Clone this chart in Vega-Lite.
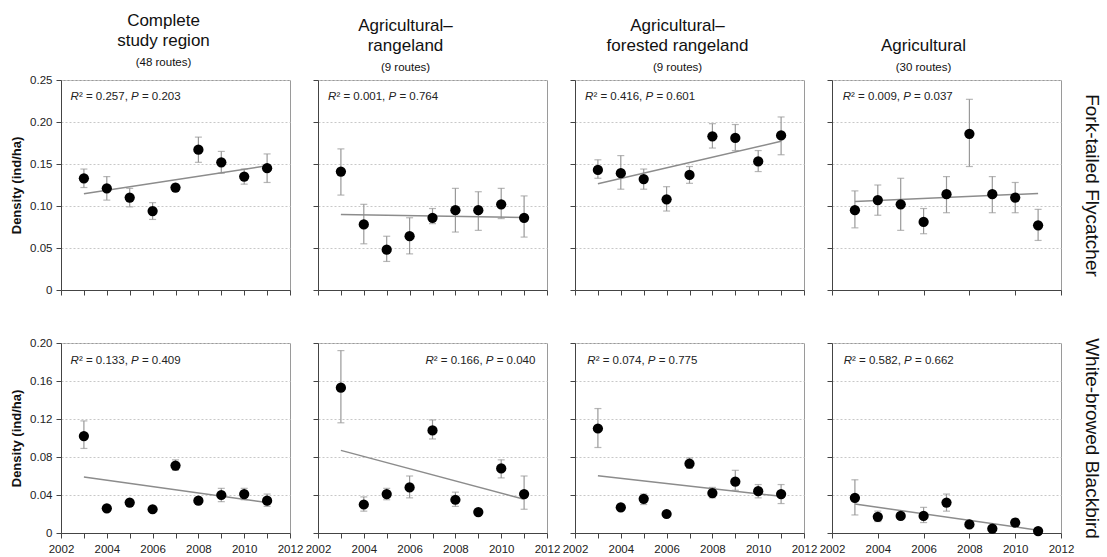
{
"$schema": "https://vega.github.io/schema/vega-lite/v6.json",
"padding": {"left": 10, "top": 11, "right": 2, "bottom": 0},
"background": "white",
"data": {"values": [
{"sp":"F","reg":"C","k":"p","x":2003,"y":0.133,"lo":0.122,"hi":0.144},
{"sp":"F","reg":"C","k":"p","x":2004,"y":0.121,"lo":0.107,"hi":0.135},
{"sp":"F","reg":"C","k":"p","x":2005,"y":0.110,"lo":0.099,"hi":0.121},
{"sp":"F","reg":"C","k":"p","x":2006,"y":0.094,"lo":0.084,"hi":0.104},
{"sp":"F","reg":"C","k":"p","x":2007,"y":0.122,"lo":0.118,"hi":0.126},
{"sp":"F","reg":"C","k":"p","x":2008,"y":0.167,"lo":0.152,"hi":0.182},
{"sp":"F","reg":"C","k":"p","x":2009,"y":0.152,"lo":0.139,"hi":0.165},
{"sp":"F","reg":"C","k":"p","x":2010,"y":0.135,"lo":0.126,"hi":0.144},
{"sp":"F","reg":"C","k":"p","x":2011,"y":0.145,"lo":0.128,"hi":0.162},
{"sp":"F","reg":"C","k":"t","x":2003,"y":0.1145},
{"sp":"F","reg":"C","k":"t","x":2011,"y":0.1478},
{"sp":"F","reg":"C","k":"a","x":2002.42,"y":0.230,"r2t":"² = 0.257,","pt":"= 0.203"},
{"sp":"F","reg":"AR","k":"p","x":2003,"y":0.141,"lo":0.113,"hi":0.168},
{"sp":"F","reg":"AR","k":"p","x":2004,"y":0.078,"lo":0.055,"hi":0.102},
{"sp":"F","reg":"AR","k":"p","x":2005,"y":0.048,"lo":0.034,"hi":0.064},
{"sp":"F","reg":"AR","k":"p","x":2006,"y":0.064,"lo":0.043,"hi":0.086},
{"sp":"F","reg":"AR","k":"p","x":2007,"y":0.086,"lo":0.079,"hi":0.097},
{"sp":"F","reg":"AR","k":"p","x":2008,"y":0.095,"lo":0.069,"hi":0.121},
{"sp":"F","reg":"AR","k":"p","x":2009,"y":0.095,"lo":0.071,"hi":0.117},
{"sp":"F","reg":"AR","k":"p","x":2010,"y":0.102,"lo":0.085,"hi":0.121},
{"sp":"F","reg":"AR","k":"p","x":2011,"y":0.086,"lo":0.063,"hi":0.112},
{"sp":"F","reg":"AR","k":"t","x":2003,"y":0.0899},
{"sp":"F","reg":"AR","k":"t","x":2011,"y":0.0864},
{"sp":"F","reg":"AR","k":"a","x":2002.44,"y":0.230,"r2t":"² = 0.001,","pt":"= 0.764"},
{"sp":"F","reg":"AFR","k":"p","x":2003,"y":0.143,"lo":0.133,"hi":0.155},
{"sp":"F","reg":"AFR","k":"p","x":2004,"y":0.139,"lo":0.120,"hi":0.160},
{"sp":"F","reg":"AFR","k":"p","x":2005,"y":0.132,"lo":0.120,"hi":0.144},
{"sp":"F","reg":"AFR","k":"p","x":2006,"y":0.108,"lo":0.094,"hi":0.123},
{"sp":"F","reg":"AFR","k":"p","x":2007,"y":0.137,"lo":0.127,"hi":0.147},
{"sp":"F","reg":"AFR","k":"p","x":2008,"y":0.183,"lo":0.169,"hi":0.198},
{"sp":"F","reg":"AFR","k":"p","x":2009,"y":0.181,"lo":0.166,"hi":0.197},
{"sp":"F","reg":"AFR","k":"p","x":2010,"y":0.153,"lo":0.141,"hi":0.166},
{"sp":"F","reg":"AFR","k":"p","x":2011,"y":0.184,"lo":0.161,"hi":0.206},
{"sp":"F","reg":"AFR","k":"t","x":2003,"y":0.1265},
{"sp":"F","reg":"AFR","k":"t","x":2011,"y":0.177},
{"sp":"F","reg":"AFR","k":"a","x":2002.44,"y":0.230,"r2t":"² = 0.416,","pt":"= 0.601"},
{"sp":"F","reg":"A","k":"p","x":2003,"y":0.095,"lo":0.074,"hi":0.118},
{"sp":"F","reg":"A","k":"p","x":2004,"y":0.107,"lo":0.089,"hi":0.125},
{"sp":"F","reg":"A","k":"p","x":2005,"y":0.102,"lo":0.071,"hi":0.133},
{"sp":"F","reg":"A","k":"p","x":2006,"y":0.081,"lo":0.067,"hi":0.097},
{"sp":"F","reg":"A","k":"p","x":2007,"y":0.114,"lo":0.092,"hi":0.135},
{"sp":"F","reg":"A","k":"p","x":2008,"y":0.186,"lo":0.147,"hi":0.227},
{"sp":"F","reg":"A","k":"p","x":2009,"y":0.114,"lo":0.092,"hi":0.135},
{"sp":"F","reg":"A","k":"p","x":2010,"y":0.110,"lo":0.092,"hi":0.128},
{"sp":"F","reg":"A","k":"p","x":2011,"y":0.077,"lo":0.059,"hi":0.096},
{"sp":"F","reg":"A","k":"t","x":2003,"y":0.1053},
{"sp":"F","reg":"A","k":"t","x":2011,"y":0.1149},
{"sp":"F","reg":"A","k":"a","x":2002.47,"y":0.230,"r2t":"² = 0.009,","pt":"= 0.037"},
{"sp":"W","reg":"C","k":"p","x":2003,"y":0.102,"lo":0.089,"hi":0.118},
{"sp":"W","reg":"C","k":"p","x":2004,"y":0.026,"lo":0.024,"hi":0.028},
{"sp":"W","reg":"C","k":"p","x":2005,"y":0.032,"lo":0.030,"hi":0.034},
{"sp":"W","reg":"C","k":"p","x":2006,"y":0.025,"lo":0.023,"hi":0.027},
{"sp":"W","reg":"C","k":"p","x":2007,"y":0.071,"lo":0.066,"hi":0.077},
{"sp":"W","reg":"C","k":"p","x":2008,"y":0.034,"lo":0.031,"hi":0.037},
{"sp":"W","reg":"C","k":"p","x":2009,"y":0.040,"lo":0.033,"hi":0.047},
{"sp":"W","reg":"C","k":"p","x":2010,"y":0.041,"lo":0.035,"hi":0.047},
{"sp":"W","reg":"C","k":"p","x":2011,"y":0.034,"lo":0.028,"hi":0.041},
{"sp":"W","reg":"C","k":"t","x":2003,"y":0.059},
{"sp":"W","reg":"C","k":"t","x":2011,"y":0.032},
{"sp":"W","reg":"C","k":"a","x":2002.42,"y":0.181,"r2t":"² = 0.133,","pt":"= 0.409"},
{"sp":"W","reg":"AR","k":"p","x":2003,"y":0.153,"lo":0.116,"hi":0.192},
{"sp":"W","reg":"AR","k":"p","x":2004,"y":0.030,"lo":0.023,"hi":0.038},
{"sp":"W","reg":"AR","k":"p","x":2005,"y":0.041,"lo":0.035,"hi":0.047},
{"sp":"W","reg":"AR","k":"p","x":2006,"y":0.048,"lo":0.037,"hi":0.060},
{"sp":"W","reg":"AR","k":"p","x":2007,"y":0.108,"lo":0.099,"hi":0.119},
{"sp":"W","reg":"AR","k":"p","x":2008,"y":0.035,"lo":0.028,"hi":0.043},
{"sp":"W","reg":"AR","k":"p","x":2009,"y":0.022,"lo":0.020,"hi":0.024},
{"sp":"W","reg":"AR","k":"p","x":2010,"y":0.068,"lo":0.058,"hi":0.077},
{"sp":"W","reg":"AR","k":"p","x":2011,"y":0.041,"lo":0.025,"hi":0.060},
{"sp":"W","reg":"AR","k":"t","x":2003,"y":0.087},
{"sp":"W","reg":"AR","k":"t","x":2011,"y":0.0355},
{"sp":"W","reg":"AR","k":"a","x":2006.69,"y":0.181,"r2t":"² = 0.166,","pt":"= 0.040"},
{"sp":"W","reg":"AFR","k":"p","x":2003,"y":0.110,"lo":0.090,"hi":0.131},
{"sp":"W","reg":"AFR","k":"p","x":2004,"y":0.027,"lo":0.025,"hi":0.029},
{"sp":"W","reg":"AFR","k":"p","x":2005,"y":0.036,"lo":0.030,"hi":0.041},
{"sp":"W","reg":"AFR","k":"p","x":2006,"y":0.020,"lo":0.018,"hi":0.022},
{"sp":"W","reg":"AFR","k":"p","x":2007,"y":0.073,"lo":0.068,"hi":0.079},
{"sp":"W","reg":"AFR","k":"p","x":2008,"y":0.042,"lo":0.037,"hi":0.048},
{"sp":"W","reg":"AFR","k":"p","x":2009,"y":0.054,"lo":0.045,"hi":0.066},
{"sp":"W","reg":"AFR","k":"p","x":2010,"y":0.044,"lo":0.037,"hi":0.051},
{"sp":"W","reg":"AFR","k":"p","x":2011,"y":0.041,"lo":0.031,"hi":0.051},
{"sp":"W","reg":"AFR","k":"t","x":2003,"y":0.0603},
{"sp":"W","reg":"AFR","k":"t","x":2011,"y":0.0386},
{"sp":"W","reg":"AFR","k":"a","x":2002.54,"y":0.181,"r2t":"² = 0.074,","pt":"= 0.775"},
{"sp":"W","reg":"A","k":"p","x":2003,"y":0.037,"lo":0.019,"hi":0.056},
{"sp":"W","reg":"A","k":"p","x":2004,"y":0.017,"lo":0.012,"hi":0.023},
{"sp":"W","reg":"A","k":"p","x":2005,"y":0.018,"lo":0.016,"hi":0.020},
{"sp":"W","reg":"A","k":"p","x":2006,"y":0.018,"lo":0.011,"hi":0.027},
{"sp":"W","reg":"A","k":"p","x":2007,"y":0.032,"lo":0.023,"hi":0.041},
{"sp":"W","reg":"A","k":"p","x":2008,"y":0.009,"lo":0.007,"hi":0.011},
{"sp":"W","reg":"A","k":"p","x":2009,"y":0.0045,"lo":0.003,"hi":0.006},
{"sp":"W","reg":"A","k":"p","x":2010,"y":0.011,"lo":0.007,"hi":0.015},
{"sp":"W","reg":"A","k":"p","x":2011,"y":0.002,"lo":0.001,"hi":0.003},
{"sp":"W","reg":"A","k":"t","x":2003,"y":0.0305},
{"sp":"W","reg":"A","k":"t","x":2011,"y":0.003},
{"sp":"W","reg":"A","k":"a","x":2002.51,"y":0.181,"r2t":"² = 0.582,","pt":"= 0.662"}
]},
"config": {
  "font": "Liberation Sans",
  "view": {"stroke": "#9a9a9a", "strokeWidth": 1},
  "axis": {"labelFont": "Liberation Sans", "labelFontSize": 11.5, "labelColor": "#222222", "domainColor": "#444444", "tickColor": "#444444", "tickSize": 5, "labelFlush": false, "labelOverlap": false, "titleFont": "Liberation Sans", "titleColor": "#111111"},
  "axisX": {"grid": false, "labelPadding": 5},
  "axisY": {"grid": true, "gridColor": "#c8c8c8", "gridDash": [2, 2], "labelPadding": 4},
  "title": {"font": "Liberation Sans", "fontSize": 17, "fontWeight": "normal", "color": "#111111", "subtitleFont": "Liberation Sans", "subtitleFontSize": 11.5, "subtitleColor": "#111111", "anchor": "middle", "frame": "group", "lineHeight": 20, "subtitlePadding": 7, "offset": 5}
},
"spacing": 40,
"vconcat": [
{"spacing": 28, "bounds": "flush", "hconcat": [
 {"width": 229, "height": 210,
  "title": {"text": ["Complete", "study region"], "subtitle": "(48 routes)", "dx": -12},
  "transform": [{"filter": "datum.sp === 'F' && datum.reg === 'C'"}],
  "encoding": {
   "x": {"field": "x", "type": "quantitative", "scale": {"domain": [2002, 2012], "nice": false, "zero": false}, "axis": {"values": [2002,2003,2004,2005,2006,2007,2008,2009,2010,2011,2012], "labels": false, "title": null}},
   "y": {"field": "y", "type": "quantitative", "scale": {"domain": [0, 0.25], "nice": false}, "axis": {"values": [0,0.05,0.1,0.15,0.2,0.25], "labelExpr": "datum.value === 0 ? '0' : format(datum.value, '.2f')", "title": "Density (ind/ha)", "titleFontSize": 13, "titleFontWeight": "bold", "titlePadding": 6}}
  },
  "layer": [
   {"transform": [{"filter": "datum.k === 'p'"}], "mark": {"type": "rule", "color": "#999999", "strokeWidth": 1.2}, "encoding": {"y": {"field": "lo", "type": "quantitative", "scale": {"domain": [0, 0.25], "nice": false}}, "y2": {"field": "hi"}}},
   {"transform": [{"filter": "datum.k === 'p'"}], "mark": {"type": "tick", "orient": "horizontal", "color": "#999999", "size": 7, "thickness": 1.2}, "encoding": {"y": {"field": "lo", "type": "quantitative", "scale": {"domain": [0, 0.25], "nice": false}}}},
   {"transform": [{"filter": "datum.k === 'p'"}], "mark": {"type": "tick", "orient": "horizontal", "color": "#999999", "size": 7, "thickness": 1.2}, "encoding": {"y": {"field": "hi", "type": "quantitative", "scale": {"domain": [0, 0.25], "nice": false}}}},
   {"transform": [{"filter": "datum.k === 't'"}], "mark": {"type": "line", "color": "#8c8c8c", "strokeWidth": 1.5}, "encoding": {}},
   {"transform": [{"filter": "datum.k === 'p'"}], "mark": {"type": "circle", "color": "#000000", "size": 105, "opacity": 1}, "encoding": {}},
   {"transform": [{"filter": "datum.k === 'a'"}], "mark": {"type": "text", "text": "R", "fontStyle": "italic", "align": "left", "baseline": "middle", "fontSize": 11.5, "color": "#222222"}, "encoding": {}},
   {"transform": [{"filter": "datum.k === 'a'"}], "mark": {"type": "text", "align": "left", "baseline": "middle", "fontSize": 11.5, "dx": 8.3, "color": "#222222"}, "encoding": {"text": {"field": "r2t"}}},
   {"transform": [{"filter": "datum.k === 'a'"}], "mark": {"type": "text", "text": "P", "fontStyle": "italic", "align": "left", "baseline": "middle", "fontSize": 11.5, "dx": 60.4, "color": "#222222"}, "encoding": {}},
   {"transform": [{"filter": "datum.k === 'a'"}], "mark": {"type": "text", "align": "left", "baseline": "middle", "fontSize": 11.5, "dx": 71.3, "color": "#222222"}, "encoding": {"text": {"field": "pt"}}}
  ]},
 {"width": 229, "height": 210,
  "title": {"text": ["Agricultural–", "rangeland"], "subtitle": "(9 routes)", "dx": -27},
  "transform": [{"filter": "datum.sp === 'F' && datum.reg === 'AR'"}],
  "encoding": {
   "x": {"field": "x", "type": "quantitative", "scale": {"domain": [2002, 2012], "nice": false, "zero": false}, "axis": {"values": [2002,2003,2004,2005,2006,2007,2008,2009,2010,2011,2012], "labels": false, "title": null}},
   "y": {"field": "y", "type": "quantitative", "scale": {"domain": [0, 0.25], "nice": false}, "axis": {"values": [0,0.05,0.1,0.15,0.2,0.25], "labels": false, "title": null}}
  },
  "layer": [
   {"transform": [{"filter": "datum.k === 'p'"}], "mark": {"type": "rule", "color": "#999999", "strokeWidth": 1.2}, "encoding": {"y": {"field": "lo", "type": "quantitative", "scale": {"domain": [0, 0.25], "nice": false}}, "y2": {"field": "hi"}}},
   {"transform": [{"filter": "datum.k === 'p'"}], "mark": {"type": "tick", "orient": "horizontal", "color": "#999999", "size": 7, "thickness": 1.2}, "encoding": {"y": {"field": "lo", "type": "quantitative", "scale": {"domain": [0, 0.25], "nice": false}}}},
   {"transform": [{"filter": "datum.k === 'p'"}], "mark": {"type": "tick", "orient": "horizontal", "color": "#999999", "size": 7, "thickness": 1.2}, "encoding": {"y": {"field": "hi", "type": "quantitative", "scale": {"domain": [0, 0.25], "nice": false}}}},
   {"transform": [{"filter": "datum.k === 't'"}], "mark": {"type": "line", "color": "#8c8c8c", "strokeWidth": 1.5}, "encoding": {}},
   {"transform": [{"filter": "datum.k === 'p'"}], "mark": {"type": "circle", "color": "#000000", "size": 105, "opacity": 1}, "encoding": {}},
   {"transform": [{"filter": "datum.k === 'a'"}], "mark": {"type": "text", "text": "R", "fontStyle": "italic", "align": "left", "baseline": "middle", "fontSize": 11.5, "color": "#222222"}, "encoding": {}},
   {"transform": [{"filter": "datum.k === 'a'"}], "mark": {"type": "text", "align": "left", "baseline": "middle", "fontSize": 11.5, "dx": 8.3, "color": "#222222"}, "encoding": {"text": {"field": "r2t"}}},
   {"transform": [{"filter": "datum.k === 'a'"}], "mark": {"type": "text", "text": "P", "fontStyle": "italic", "align": "left", "baseline": "middle", "fontSize": 11.5, "dx": 60.4, "color": "#222222"}, "encoding": {}},
   {"transform": [{"filter": "datum.k === 'a'"}], "mark": {"type": "text", "align": "left", "baseline": "middle", "fontSize": 11.5, "dx": 71.3, "color": "#222222"}, "encoding": {"text": {"field": "pt"}}}
  ]},
 {"width": 229, "height": 210,
  "title": {"text": ["Agricultural–", "forested rangeland"], "subtitle": "(9 routes)", "dx": -12},
  "transform": [{"filter": "datum.sp === 'F' && datum.reg === 'AFR'"}],
  "encoding": {
   "x": {"field": "x", "type": "quantitative", "scale": {"domain": [2002, 2012], "nice": false, "zero": false}, "axis": {"values": [2002,2003,2004,2005,2006,2007,2008,2009,2010,2011,2012], "labels": false, "title": null}},
   "y": {"field": "y", "type": "quantitative", "scale": {"domain": [0, 0.25], "nice": false}, "axis": {"values": [0,0.05,0.1,0.15,0.2,0.25], "labels": false, "title": null}}
  },
  "layer": [
   {"transform": [{"filter": "datum.k === 'p'"}], "mark": {"type": "rule", "color": "#999999", "strokeWidth": 1.2}, "encoding": {"y": {"field": "lo", "type": "quantitative", "scale": {"domain": [0, 0.25], "nice": false}}, "y2": {"field": "hi"}}},
   {"transform": [{"filter": "datum.k === 'p'"}], "mark": {"type": "tick", "orient": "horizontal", "color": "#999999", "size": 7, "thickness": 1.2}, "encoding": {"y": {"field": "lo", "type": "quantitative", "scale": {"domain": [0, 0.25], "nice": false}}}},
   {"transform": [{"filter": "datum.k === 'p'"}], "mark": {"type": "tick", "orient": "horizontal", "color": "#999999", "size": 7, "thickness": 1.2}, "encoding": {"y": {"field": "hi", "type": "quantitative", "scale": {"domain": [0, 0.25], "nice": false}}}},
   {"transform": [{"filter": "datum.k === 't'"}], "mark": {"type": "line", "color": "#8c8c8c", "strokeWidth": 1.5}, "encoding": {}},
   {"transform": [{"filter": "datum.k === 'p'"}], "mark": {"type": "circle", "color": "#000000", "size": 105, "opacity": 1}, "encoding": {}},
   {"transform": [{"filter": "datum.k === 'a'"}], "mark": {"type": "text", "text": "R", "fontStyle": "italic", "align": "left", "baseline": "middle", "fontSize": 11.5, "color": "#222222"}, "encoding": {}},
   {"transform": [{"filter": "datum.k === 'a'"}], "mark": {"type": "text", "align": "left", "baseline": "middle", "fontSize": 11.5, "dx": 8.3, "color": "#222222"}, "encoding": {"text": {"field": "r2t"}}},
   {"transform": [{"filter": "datum.k === 'a'"}], "mark": {"type": "text", "text": "P", "fontStyle": "italic", "align": "left", "baseline": "middle", "fontSize": 11.5, "dx": 60.4, "color": "#222222"}, "encoding": {}},
   {"transform": [{"filter": "datum.k === 'a'"}], "mark": {"type": "text", "align": "left", "baseline": "middle", "fontSize": 11.5, "dx": 71.3, "color": "#222222"}, "encoding": {"text": {"field": "pt"}}}
  ]},
 {"width": 229, "height": 210,
  "title": {"text": "Agricultural", "subtitle": "(30 routes)", "dx": -23},
  "transform": [{"filter": "datum.sp === 'F' && datum.reg === 'A'"}],
  "resolve": {"axis": {"y": "independent"}},
  "layer": [
   {"encoding": {
     "x": {"field": "x", "type": "quantitative", "scale": {"domain": [2002, 2012], "nice": false, "zero": false}, "axis": {"values": [2002,2003,2004,2005,2006,2007,2008,2009,2010,2011,2012], "labels": false, "title": null}},
     "y": {"field": "y", "type": "quantitative", "scale": {"domain": [0, 0.25], "nice": false}, "axis": {"values": [0,0.05,0.1,0.15,0.2,0.25], "labels": false, "title": null}}
    },
    "layer": [
     {"transform": [{"filter": "datum.k === 'p'"}], "mark": {"type": "rule", "color": "#999999", "strokeWidth": 1.2}, "encoding": {"y": {"field": "lo", "type": "quantitative", "scale": {"domain": [0, 0.25], "nice": false}}, "y2": {"field": "hi"}}},
     {"transform": [{"filter": "datum.k === 'p'"}], "mark": {"type": "tick", "orient": "horizontal", "color": "#999999", "size": 7, "thickness": 1.2}, "encoding": {"y": {"field": "lo", "type": "quantitative", "scale": {"domain": [0, 0.25], "nice": false}}}},
     {"transform": [{"filter": "datum.k === 'p'"}], "mark": {"type": "tick", "orient": "horizontal", "color": "#999999", "size": 7, "thickness": 1.2}, "encoding": {"y": {"field": "hi", "type": "quantitative", "scale": {"domain": [0, 0.25], "nice": false}}}},
     {"transform": [{"filter": "datum.k === 't'"}], "mark": {"type": "line", "color": "#8c8c8c", "strokeWidth": 1.5}, "encoding": {}},
     {"transform": [{"filter": "datum.k === 'p'"}], "mark": {"type": "circle", "color": "#000000", "size": 105, "opacity": 1}, "encoding": {}},
     {"transform": [{"filter": "datum.k === 'a'"}], "mark": {"type": "text", "text": "R", "fontStyle": "italic", "align": "left", "baseline": "middle", "fontSize": 11.5, "color": "#222222"}, "encoding": {}},
     {"transform": [{"filter": "datum.k === 'a'"}], "mark": {"type": "text", "align": "left", "baseline": "middle", "fontSize": 11.5, "dx": 8.3, "color": "#222222"}, "encoding": {"text": {"field": "r2t"}}},
     {"transform": [{"filter": "datum.k === 'a'"}], "mark": {"type": "text", "text": "P", "fontStyle": "italic", "align": "left", "baseline": "middle", "fontSize": 11.5, "dx": 60.4, "color": "#222222"}, "encoding": {}},
     {"transform": [{"filter": "datum.k === 'a'"}], "mark": {"type": "text", "align": "left", "baseline": "middle", "fontSize": 11.5, "dx": 71.3, "color": "#222222"}, "encoding": {"text": {"field": "pt"}}}
    ]},
   {"transform": [{"filter": "datum.k === 'a'"}], "mark": {"type": "point", "opacity": 0},
    "encoding": {"x": {"field": "x", "type": "quantitative", "scale": {"domain": [2002, 2012], "nice": false, "zero": false}},
     "y": {"field": "y", "type": "quantitative", "scale": {"domain": [0, 0.25], "nice": false}, "axis": {"orient": "right", "title": "Fork-tailed Flycatcher", "labels": false, "ticks": false, "domain": false, "grid": false, "titleFontSize": 19, "titleFontWeight": "normal", "titlePadding": 20, "titleColor": "#111111"}}}}
  ]}
]},
{"spacing": 28, "bounds": "flush", "hconcat": [
 {"width": 229, "height": 190,
  "transform": [{"filter": "datum.sp === 'W' && datum.reg === 'C'"}],
  "encoding": {
   "x": {"field": "x", "type": "quantitative", "scale": {"domain": [2002, 2012], "nice": false, "zero": false}, "axis": {"values": [2002,2003,2004,2005,2006,2007,2008,2009,2010,2011,2012], "labelExpr": "datum.value % 2 === 0 ? format(datum.value, 'd') : ''", "title": null}},
   "y": {"field": "y", "type": "quantitative", "scale": {"domain": [0, 0.2], "nice": false}, "axis": {"values": [0,0.04,0.08,0.12,0.16,0.2], "labelExpr": "datum.value === 0 ? '0' : format(datum.value, '.2f')", "title": "Density (ind/ha)", "titleFontSize": 13, "titleFontWeight": "bold", "titlePadding": 6}}
  },
  "layer": [
   {"transform": [{"filter": "datum.k === 'p'"}], "mark": {"type": "rule", "color": "#999999", "strokeWidth": 1.2}, "encoding": {"y": {"field": "lo", "type": "quantitative", "scale": {"domain": [0, 0.2], "nice": false}}, "y2": {"field": "hi"}}},
   {"transform": [{"filter": "datum.k === 'p'"}], "mark": {"type": "tick", "orient": "horizontal", "color": "#999999", "size": 7, "thickness": 1.2}, "encoding": {"y": {"field": "lo", "type": "quantitative", "scale": {"domain": [0, 0.2], "nice": false}}}},
   {"transform": [{"filter": "datum.k === 'p'"}], "mark": {"type": "tick", "orient": "horizontal", "color": "#999999", "size": 7, "thickness": 1.2}, "encoding": {"y": {"field": "hi", "type": "quantitative", "scale": {"domain": [0, 0.2], "nice": false}}}},
   {"transform": [{"filter": "datum.k === 't'"}], "mark": {"type": "line", "color": "#8c8c8c", "strokeWidth": 1.5}, "encoding": {}},
   {"transform": [{"filter": "datum.k === 'p'"}], "mark": {"type": "circle", "color": "#000000", "size": 105, "opacity": 1}, "encoding": {}},
   {"transform": [{"filter": "datum.k === 'a'"}], "mark": {"type": "text", "text": "R", "fontStyle": "italic", "align": "left", "baseline": "middle", "fontSize": 11.5, "color": "#222222"}, "encoding": {}},
   {"transform": [{"filter": "datum.k === 'a'"}], "mark": {"type": "text", "align": "left", "baseline": "middle", "fontSize": 11.5, "dx": 8.3, "color": "#222222"}, "encoding": {"text": {"field": "r2t"}}},
   {"transform": [{"filter": "datum.k === 'a'"}], "mark": {"type": "text", "text": "P", "fontStyle": "italic", "align": "left", "baseline": "middle", "fontSize": 11.5, "dx": 60.4, "color": "#222222"}, "encoding": {}},
   {"transform": [{"filter": "datum.k === 'a'"}], "mark": {"type": "text", "align": "left", "baseline": "middle", "fontSize": 11.5, "dx": 71.3, "color": "#222222"}, "encoding": {"text": {"field": "pt"}}}
  ]},
 {"width": 229, "height": 190,
  "transform": [{"filter": "datum.sp === 'W' && datum.reg === 'AR'"}],
  "encoding": {
   "x": {"field": "x", "type": "quantitative", "scale": {"domain": [2002, 2012], "nice": false, "zero": false}, "axis": {"values": [2002,2003,2004,2005,2006,2007,2008,2009,2010,2011,2012], "labelExpr": "datum.value % 2 === 0 ? format(datum.value, 'd') : ''", "title": null}},
   "y": {"field": "y", "type": "quantitative", "scale": {"domain": [0, 0.2], "nice": false}, "axis": {"values": [0,0.04,0.08,0.12,0.16,0.2], "labels": false, "title": null}}
  },
  "layer": [
   {"transform": [{"filter": "datum.k === 'p'"}], "mark": {"type": "rule", "color": "#999999", "strokeWidth": 1.2}, "encoding": {"y": {"field": "lo", "type": "quantitative", "scale": {"domain": [0, 0.2], "nice": false}}, "y2": {"field": "hi"}}},
   {"transform": [{"filter": "datum.k === 'p'"}], "mark": {"type": "tick", "orient": "horizontal", "color": "#999999", "size": 7, "thickness": 1.2}, "encoding": {"y": {"field": "lo", "type": "quantitative", "scale": {"domain": [0, 0.2], "nice": false}}}},
   {"transform": [{"filter": "datum.k === 'p'"}], "mark": {"type": "tick", "orient": "horizontal", "color": "#999999", "size": 7, "thickness": 1.2}, "encoding": {"y": {"field": "hi", "type": "quantitative", "scale": {"domain": [0, 0.2], "nice": false}}}},
   {"transform": [{"filter": "datum.k === 't'"}], "mark": {"type": "line", "color": "#8c8c8c", "strokeWidth": 1.5}, "encoding": {}},
   {"transform": [{"filter": "datum.k === 'p'"}], "mark": {"type": "circle", "color": "#000000", "size": 105, "opacity": 1}, "encoding": {}},
   {"transform": [{"filter": "datum.k === 'a'"}], "mark": {"type": "text", "text": "R", "fontStyle": "italic", "align": "left", "baseline": "middle", "fontSize": 11.5, "color": "#222222"}, "encoding": {}},
   {"transform": [{"filter": "datum.k === 'a'"}], "mark": {"type": "text", "align": "left", "baseline": "middle", "fontSize": 11.5, "dx": 8.3, "color": "#222222"}, "encoding": {"text": {"field": "r2t"}}},
   {"transform": [{"filter": "datum.k === 'a'"}], "mark": {"type": "text", "text": "P", "fontStyle": "italic", "align": "left", "baseline": "middle", "fontSize": 11.5, "dx": 60.4, "color": "#222222"}, "encoding": {}},
   {"transform": [{"filter": "datum.k === 'a'"}], "mark": {"type": "text", "align": "left", "baseline": "middle", "fontSize": 11.5, "dx": 71.3, "color": "#222222"}, "encoding": {"text": {"field": "pt"}}}
  ]},
 {"width": 229, "height": 190,
  "transform": [{"filter": "datum.sp === 'W' && datum.reg === 'AFR'"}],
  "encoding": {
   "x": {"field": "x", "type": "quantitative", "scale": {"domain": [2002, 2012], "nice": false, "zero": false}, "axis": {"values": [2002,2003,2004,2005,2006,2007,2008,2009,2010,2011,2012], "labelExpr": "datum.value % 2 === 0 ? format(datum.value, 'd') : ''", "title": null}},
   "y": {"field": "y", "type": "quantitative", "scale": {"domain": [0, 0.2], "nice": false}, "axis": {"values": [0,0.04,0.08,0.12,0.16,0.2], "labels": false, "title": null}}
  },
  "layer": [
   {"transform": [{"filter": "datum.k === 'p'"}], "mark": {"type": "rule", "color": "#999999", "strokeWidth": 1.2}, "encoding": {"y": {"field": "lo", "type": "quantitative", "scale": {"domain": [0, 0.2], "nice": false}}, "y2": {"field": "hi"}}},
   {"transform": [{"filter": "datum.k === 'p'"}], "mark": {"type": "tick", "orient": "horizontal", "color": "#999999", "size": 7, "thickness": 1.2}, "encoding": {"y": {"field": "lo", "type": "quantitative", "scale": {"domain": [0, 0.2], "nice": false}}}},
   {"transform": [{"filter": "datum.k === 'p'"}], "mark": {"type": "tick", "orient": "horizontal", "color": "#999999", "size": 7, "thickness": 1.2}, "encoding": {"y": {"field": "hi", "type": "quantitative", "scale": {"domain": [0, 0.2], "nice": false}}}},
   {"transform": [{"filter": "datum.k === 't'"}], "mark": {"type": "line", "color": "#8c8c8c", "strokeWidth": 1.5}, "encoding": {}},
   {"transform": [{"filter": "datum.k === 'p'"}], "mark": {"type": "circle", "color": "#000000", "size": 105, "opacity": 1}, "encoding": {}},
   {"transform": [{"filter": "datum.k === 'a'"}], "mark": {"type": "text", "text": "R", "fontStyle": "italic", "align": "left", "baseline": "middle", "fontSize": 11.5, "color": "#222222"}, "encoding": {}},
   {"transform": [{"filter": "datum.k === 'a'"}], "mark": {"type": "text", "align": "left", "baseline": "middle", "fontSize": 11.5, "dx": 8.3, "color": "#222222"}, "encoding": {"text": {"field": "r2t"}}},
   {"transform": [{"filter": "datum.k === 'a'"}], "mark": {"type": "text", "text": "P", "fontStyle": "italic", "align": "left", "baseline": "middle", "fontSize": 11.5, "dx": 60.4, "color": "#222222"}, "encoding": {}},
   {"transform": [{"filter": "datum.k === 'a'"}], "mark": {"type": "text", "align": "left", "baseline": "middle", "fontSize": 11.5, "dx": 71.3, "color": "#222222"}, "encoding": {"text": {"field": "pt"}}}
  ]},
 {"width": 229, "height": 190,
  "transform": [{"filter": "datum.sp === 'W' && datum.reg === 'A'"}],
  "resolve": {"axis": {"y": "independent"}},
  "layer": [
   {"encoding": {
     "x": {"field": "x", "type": "quantitative", "scale": {"domain": [2002, 2012], "nice": false, "zero": false}, "axis": {"values": [2002,2003,2004,2005,2006,2007,2008,2009,2010,2011,2012], "labelExpr": "datum.value % 2 === 0 ? format(datum.value, 'd') : ''", "title": null}},
     "y": {"field": "y", "type": "quantitative", "scale": {"domain": [0, 0.2], "nice": false}, "axis": {"values": [0,0.04,0.08,0.12,0.16,0.2], "labels": false, "title": null}}
    },
    "layer": [
     {"transform": [{"filter": "datum.k === 'p'"}], "mark": {"type": "rule", "color": "#999999", "strokeWidth": 1.2}, "encoding": {"y": {"field": "lo", "type": "quantitative", "scale": {"domain": [0, 0.2], "nice": false}}, "y2": {"field": "hi"}}},
     {"transform": [{"filter": "datum.k === 'p'"}], "mark": {"type": "tick", "orient": "horizontal", "color": "#999999", "size": 7, "thickness": 1.2}, "encoding": {"y": {"field": "lo", "type": "quantitative", "scale": {"domain": [0, 0.2], "nice": false}}}},
     {"transform": [{"filter": "datum.k === 'p'"}], "mark": {"type": "tick", "orient": "horizontal", "color": "#999999", "size": 7, "thickness": 1.2}, "encoding": {"y": {"field": "hi", "type": "quantitative", "scale": {"domain": [0, 0.2], "nice": false}}}},
     {"transform": [{"filter": "datum.k === 't'"}], "mark": {"type": "line", "color": "#8c8c8c", "strokeWidth": 1.5}, "encoding": {}},
     {"transform": [{"filter": "datum.k === 'p'"}], "mark": {"type": "circle", "color": "#000000", "size": 105, "opacity": 1}, "encoding": {}},
     {"transform": [{"filter": "datum.k === 'a'"}], "mark": {"type": "text", "text": "R", "fontStyle": "italic", "align": "left", "baseline": "middle", "fontSize": 11.5, "color": "#222222"}, "encoding": {}},
     {"transform": [{"filter": "datum.k === 'a'"}], "mark": {"type": "text", "align": "left", "baseline": "middle", "fontSize": 11.5, "dx": 8.3, "color": "#222222"}, "encoding": {"text": {"field": "r2t"}}},
     {"transform": [{"filter": "datum.k === 'a'"}], "mark": {"type": "text", "text": "P", "fontStyle": "italic", "align": "left", "baseline": "middle", "fontSize": 11.5, "dx": 60.4, "color": "#222222"}, "encoding": {}},
     {"transform": [{"filter": "datum.k === 'a'"}], "mark": {"type": "text", "align": "left", "baseline": "middle", "fontSize": 11.5, "dx": 71.3, "color": "#222222"}, "encoding": {"text": {"field": "pt"}}}
    ]},
   {"transform": [{"filter": "datum.k === 'a'"}], "mark": {"type": "point", "opacity": 0},
    "encoding": {"x": {"field": "x", "type": "quantitative", "scale": {"domain": [2002, 2012], "nice": false, "zero": false}},
     "y": {"field": "y", "type": "quantitative", "scale": {"domain": [0, 0.2], "nice": false}, "axis": {"orient": "right", "title": "White-browed Blackbird", "labels": false, "ticks": false, "domain": false, "grid": false, "titleFontSize": 19, "titleFontWeight": "normal", "titlePadding": 20, "titleColor": "#111111"}}}}
  ]}
]}
]
}
